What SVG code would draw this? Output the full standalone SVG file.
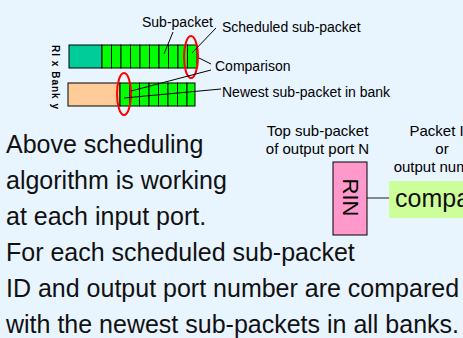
<svg xmlns="http://www.w3.org/2000/svg" width="463" height="338" viewBox="0 0 463 338">
  <style>
    .bg { fill: #E8F4FE; }
    .lbl { font-family: "Liberation Sans", Arial, sans-serif; font-size: 14px; fill: #000; }
    .sm { font-family: "Liberation Sans", Arial, sans-serif; font-size: 15px; fill: #000; }
    .body { font-family: "Liberation Sans", Arial, sans-serif; font-size: 25px; fill: #111; }
    .cell { fill: #00FF00; stroke: #000; stroke-width: 1; }
    .lead { stroke: #000; stroke-width: 1; fill: none; }
    .ring { fill: none; stroke: #FF0000; stroke-width: 2; }
  </style>
  <rect class="bg" x="0" y="0" width="463" height="338"/>

  <!-- buffer of RI x Bank y: older stored part + queued sub-packets -->
  <g id="buffer-top">
    <rect x="69" y="45" width="33" height="23" fill="#00CC99" stroke="#000"/>
    <rect class="cell" x="102" y="45" width="9.5" height="23"/>
    <rect class="cell" x="111.5" y="45" width="9.5" height="23"/>
    <rect class="cell" x="121" y="45" width="9.5" height="23"/>
    <rect class="cell" x="130.5" y="45" width="9.5" height="23"/>
    <rect class="cell" x="140" y="45" width="9.5" height="23"/>
    <rect class="cell" x="149.5" y="45" width="9.5" height="23"/>
    <rect class="cell" x="159" y="45" width="9.5" height="23"/>
    <rect class="cell" x="168.5" y="45" width="9.5" height="23"/>
    <rect class="cell" x="178" y="45" width="9.5" height="23"/>
    <rect class="cell" x="187.5" y="45" width="9.5" height="23"/>
  </g>

  <g id="buffer-bottom">
    <rect x="68" y="83" width="52" height="23" fill="#FFCC99" stroke="#000"/>
    <rect class="cell" x="120" y="83" width="10" height="23"/>
    <rect class="cell" x="130" y="83" width="9.5" height="23"/>
    <rect class="cell" x="139.5" y="83" width="9.5" height="23"/>
    <rect class="cell" x="149" y="83" width="9.5" height="23"/>
    <rect class="cell" x="158.5" y="83" width="9.5" height="23"/>
    <rect class="cell" x="168" y="83" width="9.5" height="23"/>
    <rect class="cell" x="177.5" y="83" width="9.5" height="23"/>
    <rect class="cell" x="187" y="83" width="8" height="23"/>
  </g>

  <g id="axis-label">
    <text transform="translate(52,45) rotate(90)" x="0" y="0" font-family="Liberation Sans, Arial, sans-serif" font-size="10" font-weight="bold" textLength="64">RI x Bank y</text>
  </g>

  <g id="highlights">
    <ellipse class="ring" cx="191" cy="57" rx="7" ry="21"/>
    <ellipse class="ring" cx="124" cy="94" rx="7" ry="21"/>
  </g>

  <!-- callout leaders -->
  <g id="leaders">
    <line class="lead" x1="173" y1="32" x2="164" y2="54"/>
    <line class="lead" x1="216" y1="28" x2="192" y2="53"/>
    <line class="lead" x1="199" y1="58" x2="211" y2="64"/>
    <line class="lead" x1="211" y1="70" x2="131" y2="91"/>
    <line class="lead" x1="221" y1="89" x2="124" y2="98"/>
    <line x1="367" y1="198" x2="389" y2="198" stroke="#666" stroke-width="1.5"/>
  </g>

  <g id="callouts">
    <text class="lbl" x="142" y="27">Sub-packet</text>
    <text class="lbl" x="222" y="32">Scheduled sub-packet</text>
    <text class="lbl" x="215" y="71">Comparison</text>
    <text class="lbl" x="222" y="97">Newest sub-packet in bank</text>
  </g>

  <g id="rin">
    <text class="sm" x="317.5" y="136" text-anchor="middle">Top sub-packet</text>
    <text class="sm" x="317.5" y="154" text-anchor="middle">of output port N</text>
    <rect x="333" y="162" width="34" height="73" fill="#FF99CC" stroke="#000"/>
    <text transform="translate(343,197.5) rotate(90)" x="0" y="0" text-anchor="middle" font-family="Liberation Sans, Arial, sans-serif" font-size="22">RIN</text>
  </g>

  <g id="comparator">
    <text class="sm" x="442" y="136" text-anchor="middle">Packet ID</text>
    <text class="sm" x="442" y="154" text-anchor="middle">or</text>
    <text class="sm" x="442" y="172" text-anchor="middle">output number</text>
    <rect x="389" y="181" width="90" height="37" fill="#CCFF99"/>
    <text class="body" x="395" y="207" font-size="25">comparator</text>
  </g>

  <g id="notes">
    <text class="body" x="6" y="153">Above scheduling</text>
    <text class="body" x="6" y="189">algorithm is working</text>
    <text class="body" x="6" y="225">at each input port.</text>
    <text class="body" x="6" y="261">For each scheduled sub-packet</text>
    <text class="body" x="6" y="297">ID and output port number are compared</text>
    <text class="body" x="6" y="333">with the newest sub-packets in all banks.</text>
  </g>
</svg>
